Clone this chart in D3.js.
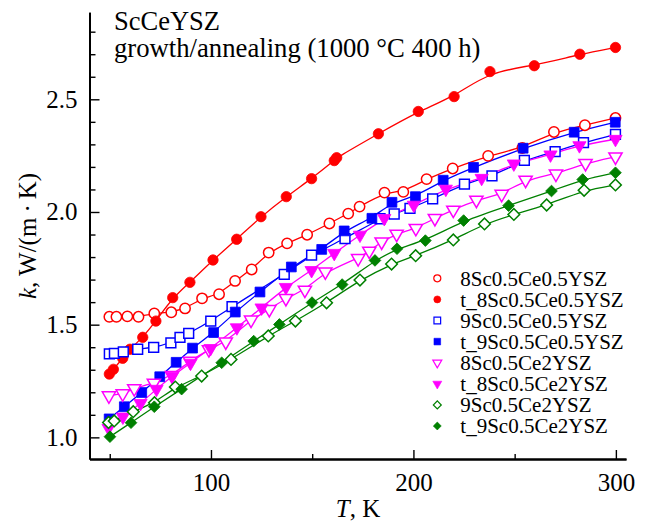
<!DOCTYPE html>
<html>
<head>
<meta charset="utf-8">
<script src="https://cdn.jsdelivr.net/npm/d3@7"></script>
<style>
  body { margin: 0; background: #fff; }
  text { font-family: "Liberation Serif", "Times New Roman", Times, "DejaVu Serif", serif; fill: #000; }
</style>
</head>
<body>
<div id="chart"></div>
<script>
// data: T in K, k in W/(m K)
var T_8Sc05Ce05 = [49.8, 53.3, 58.7, 64.2, 72.0, 80.4, 87.2, 95.6, 104.0, 111.9, 120.1, 128.5, 137.6, 147.5, 158.5, 167.8, 173.4, 185.7, 195.0, 206.5, 219.4, 236.9, 253.8, 269.4, 284.7, 299.8];
var K_8Sc05Ce05 = [1.535, 1.535, 1.537, 1.535, 1.550, 1.555, 1.572, 1.617, 1.635, 1.694, 1.745, 1.820, 1.861, 1.899, 1.949, 1.993, 2.024, 2.086, 2.089, 2.146, 2.193, 2.249, 2.284, 2.355, 2.385, 2.417];

var T_t8Sc05Ce05 = [49.8, 51.8, 56.4, 60.0, 66.3, 72.8, 81.1, 89.6, 101.0, 112.7, 124.7, 137.2, 149.7, 160.9, 162.1, 182.7, 202.4, 220.1, 237.8, 259.7, 282.2, 299.8];
var K_t8Sc05Ce05 = [1.281, 1.302, 1.351, 1.391, 1.444, 1.516, 1.620, 1.688, 1.787, 1.879, 1.979, 2.068, 2.148, 2.228, 2.241, 2.347, 2.446, 2.512, 2.623, 2.649, 2.700, 2.730];

var T_9Sc05Ce05 = [49.8, 52.3, 56.7, 63.8, 71.7, 80.2, 84.7, 89.0, 99.9, 110.4, 136.2, 149.7, 166.2, 183.5, 190.5, 198.3, 209.5, 225.2, 238.8, 254.8, 270.0, 284.0, 299.8];
var K_9Sc05Ce05 = [1.370, 1.373, 1.379, 1.391, 1.399, 1.419, 1.444, 1.461, 1.516, 1.580, 1.723, 1.809, 1.882, 1.970, 1.991, 2.016, 2.058, 2.124, 2.160, 2.229, 2.268, 2.308, 2.344];

var T_t9Sc05Ce05 = [49.7, 57.2, 65.8, 74.7, 82.8, 90.9, 101.3, 112.0, 124.2, 139.7, 154.7, 165.8, 179.5, 189.4, 201.0, 214.7, 229.7, 254.2, 279.4, 299.7];
var K_t9Sc05Ce05 = [1.082, 1.136, 1.199, 1.269, 1.333, 1.396, 1.465, 1.556, 1.645, 1.756, 1.834, 1.916, 1.972, 2.043, 2.068, 2.141, 2.198, 2.283, 2.354, 2.398];

var T_8Sc05Ce2 = [49.6, 56.4, 62.1, 71.8, 80.7, 89.6, 99.0, 107.3, 119.8, 128.8, 137.0, 146.4, 156.5, 172.7, 178.2, 184.3, 191.7, 201.2, 210.6, 219.7, 231.1, 243.6, 255.4, 270.4, 285.0, 299.8];
var K_8Sc05Ce2 = [1.185, 1.194, 1.217, 1.241, 1.275, 1.339, 1.390, 1.424, 1.521, 1.568, 1.617, 1.654, 1.735, 1.794, 1.827, 1.868, 1.902, 1.928, 1.972, 2.009, 2.053, 2.079, 2.142, 2.169, 2.216, 2.245];

var T_t8Sc05Ce2 = [49.4, 56.5, 65.2, 73.1, 80.9, 89.9, 99.8, 112.8, 125.0, 137.0, 149.7, 160.9, 173.6, 185.6, 200.2, 216.0, 233.7, 249.6, 267.7, 282.0, 299.8];
var K_t8Sc05Ce2 = [1.041, 1.091, 1.151, 1.214, 1.272, 1.330, 1.395, 1.487, 1.575, 1.666, 1.741, 1.817, 1.898, 1.972, 2.031, 2.102, 2.150, 2.214, 2.254, 2.295, 2.323];

var T_9Sc05Ce2 = [49.4, 52.2, 61.6, 72.1, 82.4, 95.4, 109.9, 128.3, 141.7, 157.1, 173.6, 189.2, 201.1, 219.7, 235.1, 249.6, 265.8, 284.3, 299.8];
var K_9Sc05Ce2 = [1.066, 1.073, 1.114, 1.154, 1.223, 1.272, 1.346, 1.450, 1.516, 1.597, 1.698, 1.769, 1.806, 1.876, 1.947, 1.989, 2.031, 2.096, 2.120];

var T_t9Sc05Ce2 = [50.1, 60.5, 72.0, 85.5, 105.3, 121.1, 133.8, 149.9, 164.8, 181.0, 191.9, 205.9, 224.8, 247.0, 268.2, 283.6, 299.8];
var K_t9Sc05Ce2 = [1.003, 1.065, 1.136, 1.214, 1.331, 1.427, 1.501, 1.598, 1.678, 1.785, 1.837, 1.873, 1.962, 2.028, 2.093, 2.144, 2.174];

var seriesNames = ["8Sc0.5Ce0.5YSZ", "t_8Sc0.5Ce0.5YSZ", "9Sc0.5Ce0.5YSZ", "t_9Sc0.5Ce0.5YSZ",
                   "8Sc0.5Ce2YSZ", "t_8Sc0.5Ce2YSZ", "9Sc0.5Ce2YSZ", "t_9Sc0.5Ce2YSZ"];
var seriesT = [T_8Sc05Ce05, T_t8Sc05Ce05, T_9Sc05Ce05, T_t9Sc05Ce05, T_8Sc05Ce2, T_t8Sc05Ce2, T_9Sc05Ce2, T_t9Sc05Ce2];
var seriesK = [K_8Sc05Ce05, K_t8Sc05Ce05, K_9Sc05Ce05, K_t9Sc05Ce05, K_8Sc05Ce2, K_t8Sc05Ce2, K_9Sc05Ce2, K_t9Sc05Ce2];

var xMajorTicks = [100, 200, 300];
var xMinorTicks = [50, 150, 250];
var yMajorTicks = [1.0, 1.5, 2.0, 2.5];
var yMinorTicks = [1.1, 1.2, 1.3, 1.4, 1.6, 1.7, 1.8, 1.9, 2.1, 2.2, 2.3, 2.4, 2.6, 2.7, 2.8];

// marker styles
var seriesColor = ["#ff0000", "#ff0000", "#0000ff", "#0000ff", "#ff00ff", "#ff00ff", "#008000", "#008000"];
var seriesShape = ["circle", "circle", "square", "square", "tridown", "tridown", "diamond", "diamond"];
var seriesFilled = [false, true, false, true, false, true, false, true];

var width = 645, height = 525;

var x = d3.scaleLinear().domain([40, 305]).range([89.5, 626]);
var y = d3.scaleLinear().domain([0.904, 2.886]).range([459, 12.3]);

var svg = d3.select("#chart").append("svg")
  .attr("width", width)
  .attr("height", height);

function symbolPath(shape, scale) {
  if (shape == "circle") return d3.symbol().type(d3.symbolCircle).size(84 * scale * scale)();
  if (shape == "square") return d3.symbol().type(d3.symbolSquare).size(96 * scale * scale)();
  if (shape == "tridown") return d3.symbol().type(d3.symbolTriangle).size(76 * scale * scale)();
  return d3.symbol().type(d3.symbolSquare).size(68 * scale * scale)();
}
function symbolRotate(shape) {
  if (shape == "tridown") return " rotate(180)";
  if (shape == "diamond") return " rotate(45)";
  return "";
}

// Add the axes
var xMinor = d3.axisBottom(x).tickValues(xMinorTicks).tickSize(-5).tickSizeOuter(0).tickFormat("");
var xMajor = d3.axisBottom(x).tickValues(xMajorTicks).tickSize(-9).tickSizeOuter(0).tickPadding(14).tickFormat(d3.format("d"));
var yMinor = d3.axisLeft(y).tickValues(yMinorTicks).tickSize(-6).tickSizeOuter(0).tickFormat("");
var yMajor = d3.axisLeft(y).tickValues(yMajorTicks).tickSize(-10).tickSizeOuter(0).tickPadding(12).tickFormat(d3.format(".1f"));

[[xMinor, "x"], [xMajor, "x"], [yMinor, "y"], [yMajor, "y"]].forEach(function (a) {
  var g = svg.append("g")
    .attr("class", a[1] + " axis")
    .attr("transform", a[1] == "x" ? "translate(0," + y.range()[0] + ")" : "translate(" + x.range()[0] + ",0)")
    .call(a[0]);
  g.select(".domain").attr("stroke", "#000").attr("stroke-width", 2);
  g.selectAll(".tick line").attr("stroke", "#000").attr("stroke-width", 1.4);
  g.selectAll(".tick text").style("font-size", "25px");
});

// lines and markers
var line = d3.line()
  .x(function (d) { return x(d[0]); })
  .y(function (d) { return y(d[1]); })
  .curve(d3.curveBasis);

for (var i = 0; i < seriesNames.length; i++) {
  var pts = seriesT[i].map(function (t, j) { return [t, seriesK[i][j]]; });
  svg.append("path")
    .attr("d", line(pts))
    .attr("fill", "none")
    .attr("stroke", seriesColor[i])
    .attr("stroke-width", 1.3);
}
for (var i = 0; i < seriesNames.length; i++) {
  var pts = seriesT[i].map(function (t, j) { return [t, seriesK[i][j]]; });
  var shape = seriesShape[i], col = seriesColor[i], filled = seriesFilled[i];
  svg.append("g").selectAll("path")
    .data(pts)
    .enter().append("path")
    .attr("d", symbolPath(shape, 1))
    .attr("transform", function (d) { return "translate(" + x(d[0]) + "," + y(d[1]) + ")" + symbolRotate(shape); })
    .attr("fill", filled ? col : "#fff")
    .attr("stroke", col)
    .attr("stroke-width", filled ? 0.8 : 1.5);
}

// legend
var legend = svg.append("g").attr("transform", "translate(437.3,278.3)");
seriesNames.forEach(function (name, i) {
  var row = legend.append("g").attr("transform", "translate(0," + (i * 21.1) + ")");
  row.append("path")
    .attr("d", symbolPath(seriesShape[i], 0.68))
    .attr("transform", symbolRotate(seriesShape[i]).trim())
    .attr("fill", seriesFilled[i] ? seriesColor[i] : "#fff")
    .attr("stroke", seriesColor[i])
    .attr("stroke-width", seriesFilled[i] ? 0.6 : 1.2);
  row.append("text")
    .attr("x", 23)
    .attr("dy", "0.35em")
    .style("font-size", "21px")
    .text(name);
});

// labels
svg.append("text").attr("x", 114).attr("y", 30).style("font-size", "26.5px").text("ScCeYSZ");
svg.append("text").attr("x", 114).attr("y", 57).style("font-size", "26.7px").text("growth/annealing (1000 °C 400 h)");

var yl = svg.append("text")
  .attr("transform", "translate(36,236) rotate(-90)")
  .attr("text-anchor", "middle")
  .style("font-size", "25px");
yl.append("tspan").style("font-style", "italic").text("k");
yl.append("tspan").text(", W/(m\u2009·\u2009K)");

var xl = svg.append("text")
  .attr("x", 358)
  .attr("y", 517)
  .attr("text-anchor", "middle")
  .style("font-size", "25px");
xl.append("tspan").style("font-style", "italic").text("T");
xl.append("tspan").text(", K");
</script>
</body>
</html>
